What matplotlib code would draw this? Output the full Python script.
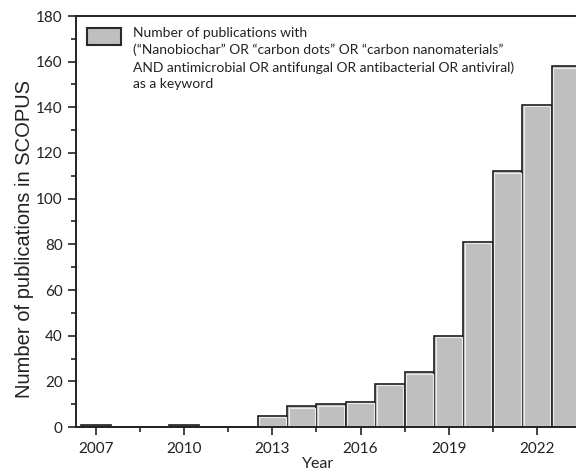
import matplotlib
matplotlib.use("Agg")
import matplotlib.pyplot as plt
from matplotlib.ticker import MultipleLocator, FixedLocator
from matplotlib.patches import Rectangle

years = [2007, 2008, 2009, 2010, 2011, 2012, 2013, 2014, 2015, 2016,
         2017, 2018, 2019, 2020, 2021, 2022, 2023]
counts = [1, 0, 0, 1, 0, 0, 5, 9, 10, 11, 19, 24, 40, 81, 112, 141, 158]
xticks = [2007, 2010, 2013, 2016, 2019, 2022]
legend_label = ("Number of publications with\n"
                "(\u201cNanobiochar\u201d OR \u201ccarbon dots\u201d OR \u201ccarbon nanomaterials\u201d\n"
                "AND antimicrobial OR antifungal OR antibacterial OR antiviral)\n"
                "as a keyword")

W, H = 576, 473
tick_font = "Lato"
dark = "#222222"
fill = "#bfbfbf"
fig = plt.figure(figsize=(W/100, H/100), dpi=100)
ax_w = 1 - 76/W + 0.02
ax = fig.add_axes([76/W, 1-427/H, ax_w, (427-16)/H])

px_x = 1/29.4     # data units per pixel (x)
px_y = 180/411    # data units per pixel (y)

ax.bar(years, counts, width=1.0, color=fill, edgecolor="#1e1e1e",
       linewidth=1.2, label=legend_label, zorder=2)
# light inner highlight line of each bar
inner_y = [y for y, c in zip(years, counts) if c >= 2]
inner_c = [c - 2*px_y for c in counts if c >= 2]
ax.bar(inner_y, inner_c, width=1.0 - 3*px_x, bottom=0.6*px_y, fill=False,
       edgecolor="#ececec", linewidth=0.8, zorder=3)

ax.set_xlim(2006.32, 2023.33 + 0.02*W/29.4)
ax.set_ylim(0, 180)
ax.xaxis.set_major_locator(FixedLocator(xticks))
ax.xaxis.set_minor_locator(FixedLocator([y + 1.5 for y in xticks]))
ax.yaxis.set_major_locator(MultipleLocator(20))
ax.yaxis.set_minor_locator(MultipleLocator(10))
ax.tick_params(axis="both", which="major", direction="out", length=6, width=1.2,
               labelsize=11, colors=dark)
ax.tick_params(axis="x", which="major", pad=5)
ax.tick_params(axis="both", which="minor", direction="out", length=3.5, width=1.2,
               colors=dark)
for lab in ax.get_xticklabels() + ax.get_yticklabels():
    lab.set_fontfamily(tick_font)

for s in ["left", "bottom", "top"]:
    ax.spines[s].set_linewidth(1.4)
    ax.spines[s].set_color(dark)
    ax.spines[s].set_zorder(4)
ax.spines["right"].set_visible(False)

ax_px_w = ax_w * W
ax.set_ylabel("Number of publications in SCOPUS", fontsize=14.5,
              fontfamily="Liberation Sans", color=dark)
ax.yaxis.set_label_coords((34 - 76)/ax_px_w, (427 - 238.5)/411)
ax.set_xlabel("Year", fontsize=11.5, fontfamily=tick_font, color=dark)
ax.xaxis.set_label_coords((318 - 76)/ax_px_w, -(457 - 427)/411)
ax.xaxis.label.set_verticalalignment("top")

# legend (handle aligned with first text line)
fig.patches.append(Rectangle((87/W, 1-45/H), 34/W, 17/H, transform=fig.transFigure,
                             facecolor=fill, edgecolor="#2a2a2a", linewidth=1.5))
fig.text(133/W, 1-27/H, legend_label, transform=fig.transFigure, ha="left", va="top",
         fontsize=10, fontfamily=tick_font, color=dark, linespacing=1.46)

fig.savefig("out.png", dpi=100)
